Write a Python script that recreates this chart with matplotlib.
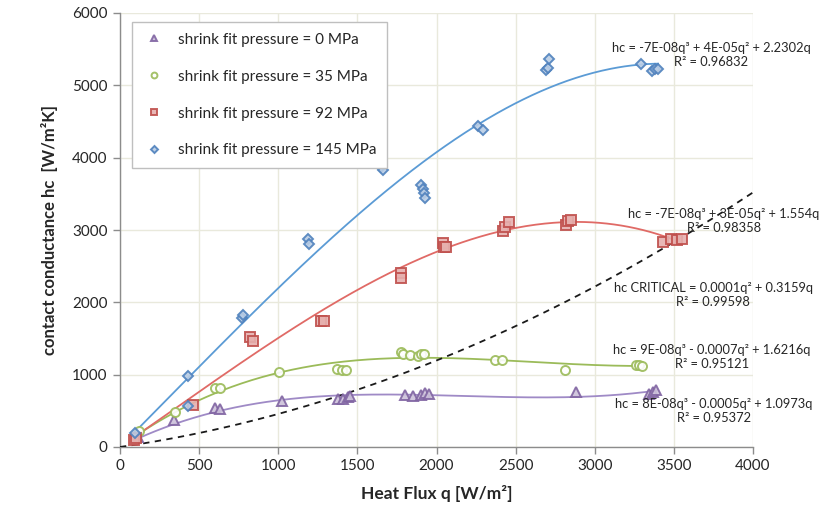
import numpy as np
import matplotlib
matplotlib.use("Agg")
import matplotlib.pyplot as plt

plt.rcParams['font.family'] = ['Lato', 'DejaVu Sans']

# Measured contact conductance vs heat flux for four shrink-fit pressures
q_0 = [114, 343, 600, 630, 1024, 1380, 1410, 1440, 1455, 1800, 1850, 1900, 1930, 1950, 2880, 3340, 3370, 3390]
hc_0 = [140, 370, 540, 530, 640, 670, 670, 690, 710, 720, 710, 720, 750, 730, 760, 730, 760, 790]

q_35 = [120, 348, 600, 630, 1005, 1370, 1400, 1430, 1775, 1790, 1830, 1880, 1900, 1920, 2370, 2414, 2812, 3260, 3280, 3300]
hc_35 = [220, 480, 820, 810, 1030, 1080, 1060, 1060, 1320, 1280, 1270, 1260, 1280, 1280, 1200, 1200, 1065, 1130, 1140, 1120]

q_92 = [90, 100, 461, 822, 840, 1270, 1290, 1775, 1775, 2040, 2050, 2060, 2420, 2430, 2460, 2820, 2830, 2850, 3430, 3480, 3520, 3550]
hc_92 = [100, 130, 580, 1520, 1465, 1740, 1740, 2410, 2340, 2820, 2770, 2760, 2980, 3040, 3110, 3070, 3120, 3140, 2830, 2870, 2860, 2870]

q_145 = [95, 430, 430, 770, 777, 1185, 1195, 1652, 1660, 1905, 1915, 1920, 1930, 2262, 2294, 2690, 2705, 2710, 3290, 3360, 3380, 3400]
hc_145 = [200, 980, 570, 1780, 1820, 2870, 2810, 3870, 3830, 3620, 3560, 3510, 3440, 4440, 4380, 5210, 5240, 5360, 5290, 5200, 5230, 5220]

labels = ["shrink fit pressure = 0 MPa", "shrink fit pressure = 35 MPa",
          "shrink fit pressure = 92 MPa", "shrink fit pressure = 145 MPa"]

equations = ["hc = 8E-08q³ - 0.0005q² + 1.0973q\nR² = 0.95372",
             "hc = 9E-08q³ - 0.0007q² + 1.6216q\nR² = 0.95121",
             "hc = -7E-08q³ + 3E-05q² + 1.554q\nR² = 0.98358",
             "hc = -7E-08q³ + 4E-05q² + 2.2302q\nR² = 0.96832"]
crit_equation = "hc CRITICAL = 0.0001q² + 0.3159q\nR² = 0.99598"

# critical conductance curve: hc = c1*q + c2*q^2
crit_c1 = 0.3159
crit_c2 = 1.41e-4
crit_q_range = [0, 4000]

x_ticks = [0, 500, 1000, 1500, 2000, 2500, 3000, 3500, 4000]
y_ticks = [0, 1000, 2000, 3000, 4000, 5000, 6000]

series = [
    dict(q=q_0, hc=hc_0, marker='^', ms=6.5, edge='#8064a2', face='#ccc1da', line='#9f8ac6'),
    dict(q=q_35, hc=hc_35, marker='o', ms=6.5, edge='#9bbb59', face='#ffffff', line='#9bbb59'),
    dict(q=q_92, hc=hc_92, marker='s', ms=7, edge='#c0504d', face='#e6b0ae', line='#e06a66'),
    dict(q=q_145, hc=hc_145, marker='D', ms=5.5, edge='#4f81bd', face='#b9cde5', line='#5b9bd5'),
]
label_pos = [(714, 403), (712, 349), (724, 213), (711, 47)]


def fit_through_origin(q, hc, deg=3):
    q = np.asarray(q, float)
    A = np.column_stack([q ** k for k in range(1, deg + 1)])
    coef, *_ = np.linalg.lstsq(A, np.asarray(hc, float), rcond=None)
    return coef


def poly_eval(coef, q):
    return sum(c * q ** (k + 1) for k, c in enumerate(coef))


W, H = 836, 505
fig = plt.figure(figsize=(W / 100, H / 100), dpi=100)
ax = fig.add_axes([120 / W, (H - 447) / H, 633 / W, 434 / H])

ax.set_xlim(0, 4000)
ax.set_ylim(0, 6000)
ax.set_xticks(x_ticks)
ax.set_yticks(y_ticks)
ax.grid(True, color='#e9e9dc', linewidth=1)
ax.set_axisbelow(True)
for s in ['top', 'right']:
    ax.spines[s].set_visible(False)
for s in ['left', 'bottom']:
    ax.spines[s].set_color('#8c8c8c')
    ax.spines[s].set_linewidth(1)
ax.tick_params(direction='out', length=5, width=1, color='#8c8c8c',
               labelsize=11, labelcolor='#262626', pad=4)

# trend curves
for s in series:
    coef = fit_through_origin(s['q'], s['hc'])
    qq = np.linspace(min(s['q']), max(s['q']), 300)
    ax.plot(qq, poly_eval(coef, qq), color=s['line'], lw=1.3, zorder=2)

# critical curve
qc = np.linspace(crit_q_range[0], crit_q_range[1], 300)
ax.plot(qc, poly_eval([crit_c1, crit_c2], qc), color='#1a1a1a', lw=1.3,
        ls=(0, (3.5, 3)), zorder=3)

# data markers
handles = []
for s, lab in zip(series, labels):
    h, = ax.plot(s['q'], s['hc'], ls='none', marker=s['marker'], ms=s['ms'],
                 mfc=s['face'], mec=s['edge'], mew=1.4, alpha=0.9, zorder=4, label=lab)
    handles.append(h)

# equation labels
def to_data(px, py):
    return (px - 120) / 633 * 4000, (447 - py) / 434 * 6000

for eq, (px, py) in zip(equations, label_pos):
    x, y = to_data(px, py + 8)
    ax.text(x, y, eq, ha='center', va='center', fontsize=9.3, color='#262626',
            linespacing=1.3, zorder=5)
x, y = to_data(713, 295)
ax.text(x, y, crit_equation, ha='center', va='center', fontsize=9.3, color='#262626',
        linespacing=1.3, zorder=5)

leg = ax.legend(handles=handles, loc='upper left', bbox_to_anchor=(12 / 633, 1 - 9 / 434),
                borderaxespad=0, frameon=True, fancybox=False, framealpha=1,
                edgecolor='#bfbfbf', fontsize=11, labelspacing=1.5, markerscale=0.65,
                handlelength=1.5, handletextpad=0.8, borderpad=0.7)
leg.get_frame().set_linewidth(1)
for t in leg.get_texts():
    t.set_color('#262626')

ax.set_xlabel('Heat Flux q [W/m²]', fontsize=12.5, fontweight='bold', color='#262626', labelpad=8)
ax.set_ylabel('contact conductance hc  [W/m²K]', fontsize=12, fontweight='bold',
              color='#262626', labelpad=10)

fig.savefig('out.png', dpi=100)
